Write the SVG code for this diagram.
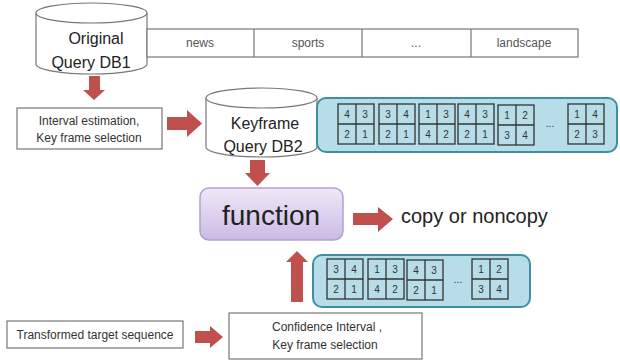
<svg xmlns="http://www.w3.org/2000/svg" width="620" height="363" viewBox="0 0 620 363">
<defs>
<linearGradient id="fg" x1="0" y1="0" x2="0" y2="1">
<stop offset="0" stop-color="#efe8f8"/>
<stop offset="1" stop-color="#cbbbe5"/>
</linearGradient>
<style>
text{font-family:"Liberation Sans","DejaVu Sans",sans-serif;fill:#222}
.cyl{fill:#fff;stroke:#777;stroke-width:1.2}
.box{fill:#fff;stroke:#777;stroke-width:1.2}
.arr{fill:#c0504d}
.panel{fill:#b7dde8;stroke:#3f8ea3;stroke-width:2}
.cell{fill:none;stroke:#333;stroke-width:1.3}
.num{font-size:10px;text-anchor:middle;fill:#333}
.tab{font-size:12px;text-anchor:middle;fill:#555}
.lbl{font-size:12px;text-anchor:middle;fill:#333}
.big{font-size:16px;text-anchor:middle;fill:#222}
</style>
<g id="grid">
<rect class="cell" x="0" y="0" width="36" height="40"/>
<line class="cell" x1="18" y1="0" x2="18" y2="40"/>
<line class="cell" x1="0" y1="20" x2="36" y2="20"/>
</g>
</defs>

<g id="db1">
<path class="cyl" d="M36,13 L36,64 A55.5,10 0 0 0 147,64 L147,13"/>
<ellipse class="cyl" cx="91.5" cy="13" rx="55.5" ry="10"/>
<text class="big" x="96" y="44">Original</text>
<text class="big" x="91" y="68">Query DB1</text>
</g>

<g id="table">
<rect class="box" x="147" y="29" width="431" height="28"/>
<line class="box" x1="254" y1="29" x2="254" y2="57"/>
<line class="box" x1="362" y1="29" x2="362" y2="57"/>
<line class="box" x1="471" y1="29" x2="471" y2="57"/>
<text class="tab" x="200" y="47">news</text>
<text class="tab" x="308" y="47">sports</text>
<text class="tab" x="416" y="47">...</text>
<text class="tab" x="524" y="47">landscape</text>
</g>

<g id="interval">
<rect class="box" x="17" y="108" width="145" height="41"/>
<text class="lbl" x="89" y="125">Interval estimation,</text>
<text class="lbl" x="89" y="142">Key frame selection</text>
</g>

<g id="db2">
<path class="cyl" d="M206,98 L206,147 A55.5,10 0 0 0 317,147 L317,98"/>
<ellipse class="cyl" cx="261.5" cy="98" rx="55.5" ry="10"/>
<text class="big" x="265" y="129">Keyframe</text>
<text class="big" x="263" y="152">Query DB2</text>
</g>

<g id="panel-top">
<rect class="panel" x="317" y="98" width="300" height="54" rx="9"/>
<g transform="translate(338,104)"><use href="#grid"/><text class="num" x="9" y="14">4</text><text class="num" x="27" y="14">3</text><text class="num" x="9" y="34">2</text><text class="num" x="27" y="34">1</text></g>
<g transform="translate(379,104)"><use href="#grid"/><text class="num" x="9" y="14">3</text><text class="num" x="27" y="14">4</text><text class="num" x="9" y="34">2</text><text class="num" x="27" y="34">1</text></g>
<g transform="translate(419,104)"><use href="#grid"/><text class="num" x="9" y="14">1</text><text class="num" x="27" y="14">3</text><text class="num" x="9" y="34">4</text><text class="num" x="27" y="34">2</text></g>
<g transform="translate(458,104)"><use href="#grid"/><text class="num" x="9" y="14">4</text><text class="num" x="27" y="14">3</text><text class="num" x="9" y="34">2</text><text class="num" x="27" y="34">1</text></g>
<g transform="translate(498,105)"><use href="#grid"/><text class="num" x="9" y="14">1</text><text class="num" x="27" y="14">2</text><text class="num" x="9" y="34">3</text><text class="num" x="27" y="34">4</text></g>
<text class="num" x="550" y="127">...</text>
<g transform="translate(568,104)"><use href="#grid"/><text class="num" x="9" y="14">1</text><text class="num" x="27" y="14">4</text><text class="num" x="9" y="34">2</text><text class="num" x="27" y="34">3</text></g>
</g>

<g id="function">
<rect x="200" y="188" width="143" height="52" rx="9" fill="url(#fg)" stroke="#b3a0d2" stroke-width="1.5"/>
<text x="271" y="225" font-size="28" text-anchor="middle" fill="#111">function</text>
</g>

<g id="result">
<text x="401" y="223" font-size="20" fill="#222">copy or noncopy</text>
</g>

<g id="panel-bottom">
<rect class="panel" x="313" y="255" width="217" height="52" rx="9"/>
<g transform="translate(327,259)"><use href="#grid"/><text class="num" x="9" y="14">3</text><text class="num" x="27" y="14">4</text><text class="num" x="9" y="34">2</text><text class="num" x="27" y="34">1</text></g>
<g transform="translate(368,259)"><use href="#grid"/><text class="num" x="9" y="14">1</text><text class="num" x="27" y="14">3</text><text class="num" x="9" y="34">4</text><text class="num" x="27" y="34">2</text></g>
<g transform="translate(407,260)"><use href="#grid"/><text class="num" x="9" y="14">4</text><text class="num" x="27" y="14">3</text><text class="num" x="9" y="34">2</text><text class="num" x="27" y="34">1</text></g>
<text class="num" x="458" y="283">...</text>
<g transform="translate(472,259)"><use href="#grid"/><text class="num" x="9" y="14">1</text><text class="num" x="27" y="14">2</text><text class="num" x="9" y="34">3</text><text class="num" x="27" y="34">4</text></g>
</g>

<g id="target">
<rect class="box" x="7" y="321" width="176" height="27"/>
<text class="lbl" x="95" y="339">Transformed target sequence</text>
</g>

<g id="confidence">
<rect class="box" x="229" y="313" width="193" height="46"/>
<text class="lbl" x="327" y="331">Confidence Interval ,</text>
<text class="lbl" x="325" y="349">Key frame selection</text>
</g>

<g id="connectors">
<polygon class="arr" points="89,76 100,76 100,90 105,90 94,100 83,90 89,90"/>
<polygon class="arr" points="167,117 187,117 187,110 202,123.5 187,137 187,130 167,130"/>
<polygon class="arr" points="250,160 265,160 265,173 270,173 257.5,186 245,173 250,173"/>
<polygon class="arr" points="353,213 378,213 378,207 393,219 378,232 378,225 353,225"/>
<polygon class="arr" points="291,302 291,262 286,262 297,251 308,262 303,262 303,302"/>
<polygon class="arr" points="195,331 210,331 210,326 223,337 210,348 210,343 195,343"/>
</g>
</svg>
